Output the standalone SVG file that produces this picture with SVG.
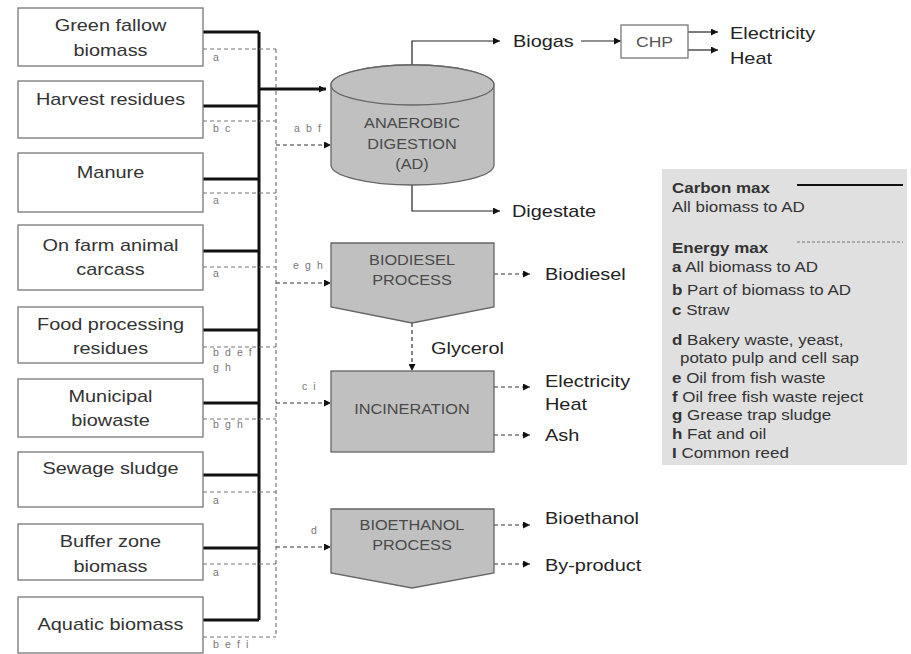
<svg xmlns="http://www.w3.org/2000/svg" width="911" height="654" viewBox="0 0 911 654">
<defs>
<marker id="ah" viewBox="0 0 10 10" refX="10" refY="5" markerWidth="8" markerHeight="7" markerUnits="userSpaceOnUse" orient="auto"><path d="M0,0 L10,5 L0,10 Z" fill="#111"/></marker>
<style>
text{font-family:"Liberation Sans",Arial,sans-serif}
.box{fill:#fff;stroke:#777;stroke-width:1.3}
.bx{font-size:17px;fill:#333;text-anchor:middle}
.out{font-size:17px;fill:#222}
.pr{font-size:15.5px;fill:#4a4a4a;text-anchor:middle}
.sm{font-size:10.5px;fill:#777;letter-spacing:1.6px}
.lg{font-size:14.5px;fill:#333}
.proc{fill:#c0c0c0;stroke:#666;stroke-width:1.3}
.thick{stroke:#111;stroke-width:3;fill:none}
.thin{stroke:#222;stroke-width:1.2;fill:none}
.dash{stroke:#777;stroke-width:1.2;fill:none;stroke-dasharray:4 3}
.dashb{stroke:#333;stroke-width:1.2;fill:none;stroke-dasharray:4 3}
</style>
</defs>
<rect width="911" height="654" fill="#fff"/>

<g id="connectors">
<path class="thick" d="M203,32H259M203,106H259M203,179H259M203,251H259M203,330H259M203,403H259M203,475H259M203,548H259M203,620H259M259,32V620"/>
<path class="thick" d="M259,89H326" marker-end="url(#ah)"/>
<path class="dash" d="M203,49H276M203,121H276M203,193H276M203,267H276M203,347H276M203,419H276M203,492H276M203,564H276M203,637H276M276,49V637"/>
<path class="dashb" d="M276,145H331" marker-end="url(#ah)"/>
<path class="dashb" d="M276,283H331" marker-end="url(#ah)"/>
<path class="dashb" d="M276,403H331" marker-end="url(#ah)"/>
<path class="dashb" d="M276,547H331" marker-end="url(#ah)"/>
<path class="thin" d="M412,89V41H500" marker-end="url(#ah)"/>
<path class="thin" d="M412,185V211H500" marker-end="url(#ah)"/>
<path class="thin" d="M581,41H621" marker-end="url(#ah)"/>
<path class="thin" d="M688,32H718" marker-end="url(#ah)"/>
<path class="thin" d="M688,50H718" marker-end="url(#ah)"/>
<path class="dashb" d="M494,274H530" marker-end="url(#ah)"/>
<path class="dashb" d="M412,323V371" marker-end="url(#ah)"/>
<path class="dashb" d="M494,387H530" marker-end="url(#ah)"/>
<path class="dashb" d="M494,435H530" marker-end="url(#ah)"/>
<path class="dashb" d="M494,525H530" marker-end="url(#ah)"/>
<path class="dashb" d="M494,564H530" marker-end="url(#ah)"/>
<text class="sm" x="213" y="61">a</text>
<text class="sm" x="213" y="132">b c</text>
<text class="sm" x="213" y="204">a</text>
<text class="sm" x="213" y="277">a</text>
<text class="sm" x="213" y="356">b d e f</text>
<text class="sm" x="213" y="371">g h</text>
<text class="sm" x="213" y="428">b g h</text>
<text class="sm" x="213" y="504">a</text>
<text class="sm" x="213" y="576">a</text>
<text class="sm" x="213" y="648">b e f i</text>
<text class="sm" x="294" y="132">a b f</text>
<text class="sm" x="293" y="269">e g h</text>
<text class="sm" x="302" y="390">c i</text>
<text class="sm" x="311" y="534">d</text>
</g>

<g id="n-green"><rect class="box" x="18" y="8" width="185" height="58"/>
<text class="bx" transform="translate(110.5 31) scale(1.17 1)">Green fallow</text>
<text class="bx" transform="translate(110.5 56) scale(1.17 1)">biomass</text></g>
<g id="n-harvest"><rect class="box" x="18" y="81" width="185" height="57"/>
<text class="bx" transform="translate(110.5 105) scale(1.17 1)">Harvest residues</text></g>
<g id="n-manure"><rect class="box" x="18" y="153" width="185" height="59"/>
<text class="bx" transform="translate(110.5 178) scale(1.17 1)">Manure</text></g>
<g id="n-carcass"><rect class="box" x="18" y="225" width="185" height="65"/>
<text class="bx" transform="translate(110.5 251) scale(1.17 1)">On farm animal</text>
<text class="bx" transform="translate(110.5 275) scale(1.17 1)">carcass</text></g>
<g id="n-food"><rect class="box" x="18" y="307" width="185" height="56"/>
<text class="bx" transform="translate(110.5 330) scale(1.17 1)">Food processing</text>
<text class="bx" transform="translate(110.5 354) scale(1.17 1)">residues</text></g>
<g id="n-municipal"><rect class="box" x="18" y="379" width="185" height="58"/>
<text class="bx" transform="translate(110.5 402) scale(1.17 1)">Municipal</text>
<text class="bx" transform="translate(110.5 426) scale(1.17 1)">biowaste</text></g>
<g id="n-sewage"><rect class="box" x="18" y="452" width="185" height="55"/>
<text class="bx" transform="translate(110.5 474) scale(1.17 1)">Sewage sludge</text></g>
<g id="n-buffer"><rect class="box" x="18" y="524" width="185" height="56"/>
<text class="bx" transform="translate(110.5 547) scale(1.17 1)">Buffer zone</text>
<text class="bx" transform="translate(110.5 572) scale(1.17 1)">biomass</text></g>
<g id="n-aquatic"><rect class="box" x="18" y="597" width="185" height="56"/>
<text class="bx" transform="translate(110.5 630) scale(1.17 1)">Aquatic biomass</text></g>

<g id="n-ad">
<path class="proc" d="M331,85V165A81.5,20 0 0 0 494,165V85A81.5,20 0 0 0 331,85Z"/>
<ellipse class="proc" cx="412.5" cy="85" rx="81.5" ry="20"/>
<text class="pr" transform="translate(412 128) scale(1.05 1)">ANAEROBIC</text>
<text class="pr" transform="translate(412 149) scale(1.05 1)">DIGESTION</text>
<text class="pr" transform="translate(412 169) scale(1.05 1)">(AD)</text>
</g>
<g id="n-biogas"><text class="out" transform="translate(513 47) scale(1.17 1)">Biogas</text></g>
<g id="n-chp"><rect class="box" x="621" y="25" width="67" height="33" stroke="#666"/>
<text class="bx" style="font-size:15px;fill:#555" transform="translate(654.5 47) scale(1.17 1)">CHP</text></g>
<g id="n-chp-out"><text class="out" transform="translate(730 39) scale(1.17 1)">Electricity</text>
<text class="out" transform="translate(730 64) scale(1.17 1)">Heat</text></g>
<g id="n-digestate"><text class="out" transform="translate(512 217) scale(1.17 1)">Digestate</text></g>

<g id="n-biodiesel-process">
<polygon class="proc" points="331,243 494,243 494,307 412,323 331,307"/>
<text class="pr" transform="translate(412 265) scale(1.05 1)">BIODIESEL</text>
<text class="pr" transform="translate(412 285) scale(1.05 1)">PROCESS</text>
</g>
<g id="n-biodiesel"><text class="out" transform="translate(545 280) scale(1.17 1)">Biodiesel</text></g>
<g id="n-glycerol"><text class="out" transform="translate(431 354) scale(1.17 1)">Glycerol</text></g>

<g id="n-incineration">
<rect class="proc" x="331" y="371" width="163" height="81"/>
<text class="pr" transform="translate(412 414) scale(1.05 1)">INCINERATION</text>
</g>
<g id="n-inc-out"><text class="out" transform="translate(545 387) scale(1.17 1)">Electricity</text>
<text class="out" transform="translate(545 410) scale(1.17 1)">Heat</text>
<text class="out" transform="translate(545 441) scale(1.17 1)">Ash</text></g>

<g id="n-bioethanol-process">
<polygon class="proc" points="331,509 494,509 494,573 412,588 331,573"/>
<text class="pr" transform="translate(412 530) scale(1.05 1)">BIOETHANOL</text>
<text class="pr" transform="translate(412 550) scale(1.05 1)">PROCESS</text>
</g>
<g id="n-bioethanol"><text class="out" transform="translate(545 524) scale(1.17 1)">Bioethanol</text></g>
<g id="n-byproduct"><text class="out" transform="translate(545 571) scale(1.17 1)">By-product</text></g>

<g id="legend">
<rect x="662" y="169" width="245" height="296" fill="#e0e0e0"/>
<line x1="797" y1="185" x2="903" y2="185" stroke="#111" stroke-width="2"/>
<line x1="797" y1="242" x2="903" y2="242" stroke="#777" stroke-width="1" stroke-dasharray="3 2"/>
<text class="lg" font-weight="bold" fill="#222" transform="translate(672 193) scale(1.17 1)">Carbon max</text>
<text class="lg" transform="translate(672 212) scale(1.17 1)">All biomass to AD</text>
<text class="lg" font-weight="bold" fill="#222" transform="translate(672 253) scale(1.17 1)">Energy max</text>
<text class="lg" transform="translate(672 272) scale(1.17 1)"><tspan font-weight="bold">a</tspan> All biomass to AD</text>
<text class="lg" transform="translate(672 295) scale(1.17 1)"><tspan font-weight="bold">b</tspan> Part of biomass to AD</text>
<text class="lg" transform="translate(672 315) scale(1.17 1)"><tspan font-weight="bold">c</tspan> Straw</text>
<text class="lg" transform="translate(672 345) scale(1.17 1)"><tspan font-weight="bold">d</tspan> Bakery waste, yeast,</text>
<text class="lg" transform="translate(680 363) scale(1.17 1)">potato pulp and cell sap</text>
<text class="lg" transform="translate(672 383) scale(1.17 1)"><tspan font-weight="bold">e</tspan> Oil from fish waste</text>
<text class="lg" transform="translate(672 402) scale(1.17 1)"><tspan font-weight="bold">f</tspan>  Oil free fish waste reject</text>
<text class="lg" transform="translate(672 420) scale(1.17 1)"><tspan font-weight="bold">g</tspan> Grease trap sludge</text>
<text class="lg" transform="translate(672 439) scale(1.17 1)"><tspan font-weight="bold">h</tspan> Fat and oil</text>
<text class="lg" transform="translate(672 458) scale(1.17 1)"><tspan font-weight="bold">I</tspan>  Common reed</text>
</g>
</svg>
